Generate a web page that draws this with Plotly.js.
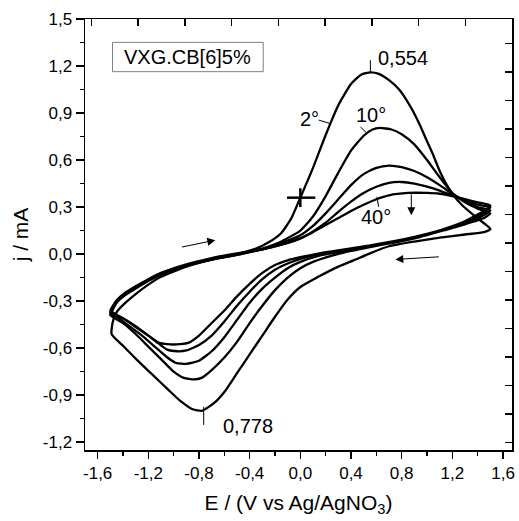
<!DOCTYPE html>
<html>
<head>
<meta charset="utf-8">
<script src="https://cdn.plot.ly/plotly-3.0.1.min.js"></script>
<style>html,body{margin:0;padding:0;background:#fff;}#chart{width:519px;height:521px;}</style>
</head>
<body>
<div id="chart"></div>
<script>
// ---- Data (E in V vs Ag/AgNO3, j in mA), each loop: anodic sweep then cathodic sweep ----
var e2 = [-1.49,-1.48,-1.45,-1.38,-1.3,-1.2,-1.1,-0.9,-0.7,-0.5,-0.35,-0.25,-0.15,-0.07,0.0,0.1,0.2,0.3,0.4,0.48,0.554,0.62,0.7,0.78,0.87,0.94,1.0,1.05,1.1,1.15,1.2,1.28,1.38,1.5,
          1.45,1.3,1.1,0.9,0.7,0.55,0.42,0.3,0.13,0.0,-0.1,-0.2,-0.3,-0.4,-0.5,-0.6,-0.68,-0.778,-0.85,-0.95,-1.05,-1.18,-1.29,-1.4,-1.49];
var j2 = [-0.51,-0.43,-0.37,-0.31,-0.255,-0.195,-0.145,-0.08,-0.035,0.0,0.035,0.075,0.135,0.23,0.36,0.55,0.76,0.95,1.085,1.145,1.16,1.15,1.11,1.05,0.94,0.83,0.72,0.63,0.53,0.45,0.385,0.31,0.24,0.16,
          0.14,0.125,0.105,0.08,0.05,0.005,-0.04,-0.08,-0.15,-0.21,-0.29,-0.40,-0.52,-0.64,-0.76,-0.88,-0.95,-1.0,-0.99,-0.935,-0.86,-0.76,-0.675,-0.585,-0.51];

var e10 = [-1.5,-1.49,-1.45,-1.38,-1.3,-1.2,-1.1,-0.9,-0.7,-0.5,-0.3,-0.15,0.0,0.1,0.2,0.3,0.4,0.5,0.57,0.63,0.72,0.8,0.9,1.0,1.1,1.2,1.3,1.4,1.5,
           1.45,1.3,1.15,0.95,0.75,0.55,0.4,0.25,0.1,0.0,-0.1,-0.2,-0.3,-0.4,-0.5,-0.6,-0.7,-0.78,-0.84,-0.92,-1.0,-1.1,-1.2,-1.3,-1.4,-1.5];
var j10 = [-0.39,-0.37,-0.31,-0.26,-0.22,-0.17,-0.13,-0.075,-0.035,-0.005,0.035,0.08,0.15,0.24,0.37,0.52,0.66,0.755,0.795,0.805,0.795,0.765,0.70,0.60,0.49,0.39,0.33,0.29,0.26,
           0.23,0.19,0.155,0.11,0.075,0.045,0.02,-0.01,-0.05,-0.09,-0.15,-0.23,-0.33,-0.44,-0.56,-0.66,-0.74,-0.79,-0.80,-0.79,-0.75,-0.67,-0.59,-0.51,-0.44,-0.39];

var e3 = [-1.5,-1.49,-1.45,-1.38,-1.3,-1.2,-1.1,-0.9,-0.7,-0.5,-0.3,-0.15,0.0,0.1,0.2,0.3,0.4,0.5,0.6,0.7,0.8,0.9,1.0,1.1,1.2,1.3,1.4,1.5,
          1.45,1.3,1.15,0.95,0.75,0.55,0.35,0.15,0.0,-0.1,-0.2,-0.3,-0.4,-0.5,-0.6,-0.7,-0.8,-0.9,-0.98,-1.05,-1.15,-1.25,-1.35,-1.45,-1.5];
var j3 = [-0.38,-0.36,-0.305,-0.255,-0.215,-0.17,-0.13,-0.075,-0.035,-0.005,0.03,0.07,0.12,0.18,0.26,0.35,0.44,0.51,0.55,0.565,0.555,0.53,0.49,0.44,0.385,0.34,0.30,0.28,
          0.25,0.20,0.16,0.115,0.08,0.05,0.02,-0.01,-0.05,-0.09,-0.15,-0.22,-0.31,-0.42,-0.53,-0.62,-0.68,-0.70,-0.695,-0.66,-0.59,-0.52,-0.46,-0.40,-0.38];

var e4 = [-1.5,-1.49,-1.45,-1.38,-1.3,-1.2,-1.1,-0.9,-0.7,-0.5,-0.3,-0.15,0.0,0.1,0.2,0.3,0.4,0.5,0.6,0.7,0.8,0.9,1.0,1.1,1.2,1.3,1.4,1.5,
          1.45,1.3,1.15,0.95,0.75,0.55,0.35,0.15,0.0,-0.1,-0.2,-0.3,-0.4,-0.5,-0.6,-0.7,-0.8,-0.9,-0.97,-1.05,-1.12,-1.2,-1.3,-1.4,-1.5];
var j4 = [-0.37,-0.355,-0.30,-0.25,-0.21,-0.165,-0.125,-0.07,-0.03,0.0,0.03,0.06,0.10,0.145,0.20,0.27,0.335,0.39,0.43,0.455,0.46,0.45,0.43,0.405,0.375,0.345,0.315,0.30,
          0.265,0.205,0.16,0.115,0.08,0.05,0.025,0.0,-0.03,-0.06,-0.10,-0.16,-0.24,-0.33,-0.43,-0.52,-0.58,-0.615,-0.62,-0.61,-0.57,-0.52,-0.46,-0.41,-0.37];

var e40 = [-1.5,-1.49,-1.45,-1.38,-1.3,-1.2,-1.1,-0.9,-0.7,-0.5,-0.3,-0.15,0.0,0.1,0.2,0.3,0.4,0.5,0.6,0.7,0.85,1.0,1.1,1.2,1.3,1.4,1.5,
           1.45,1.3,1.15,0.95,0.75,0.55,0.35,0.15,0.0,-0.1,-0.2,-0.3,-0.4,-0.5,-0.6,-0.7,-0.8,-0.88,-0.95,-1.05,-1.12,-1.2,-1.3,-1.4,-1.5];
var j40 = [-0.36,-0.345,-0.295,-0.245,-0.205,-0.16,-0.12,-0.065,-0.025,0.005,0.03,0.06,0.10,0.14,0.185,0.23,0.275,0.315,0.35,0.375,0.39,0.39,0.385,0.37,0.35,0.33,0.31,
           0.275,0.21,0.165,0.12,0.085,0.055,0.03,0.005,-0.02,-0.04,-0.07,-0.12,-0.19,-0.27,-0.36,-0.44,-0.52,-0.565,-0.575,-0.575,-0.565,-0.52,-0.465,-0.41,-0.36];

var xTickVals = [-1.6,-1.2,-0.8,-0.4,0.0,0.4,0.8,1.2,1.6];
var xTickText = ["-1,6","-1,2","-0,8","-0,4","0,0","0,4","0,8","1,2","1,6"];
var yTickVals = [-1.2,-0.9,-0.6,-0.3,0.0,0.3,0.6,0.9,1.2,1.5];
var yTickText = ["-1,2","-0,9","-0,6","-0,3","0,0","0,3","0,6","0,9","1,2","1,5"];

var FONT = 'Arial, "Liberation Sans", sans-serif';
var lineStyle = {color:'#000', width:2.3, shape:'spline', smoothing:0.5};
function loop(e, j, name){ return {type:'scatter', mode:'lines', x:e, y:j, name:name, line:lineStyle, showlegend:false, hoverinfo:'skip'}; }

var traces = [loop(e2,j2,'2°'), loop(e10,j10,'10°'), loop(e3,j3,'20°'), loop(e4,j4,'30°'), loop(e40,j40,'40°'),
  {type:'scatter', x:[], y:[], xaxis:'x2', yaxis:'y2', showlegend:false, hoverinfo:'skip'}];

function seg(x0,y0,x1,y1,w){ return {type:'line', xref:'x', yref:'y', x0:x0, y0:y0, x1:x1, y1:y1, line:{color:'#000', width:w||1}}; }
function label(x,y,t,size){ return {x:x, y:y, xref:'x', yref:'y', text:t, showarrow:false, font:{family:FONT, size:size||20, color:'#000'}}; }
function arrow(x0,y0,x1,y1){ return {x:x1, y:y1, ax:x0, ay:y0, xref:'x', yref:'y', axref:'x', ayref:'y', text:'', showarrow:true, arrowhead:2, arrowsize:1.6, arrowwidth:1, arrowcolor:'#000'}; }

var layout = {
  width:519, height:521,
  margin:{l:85, r:7, t:19, b:71, pad:0},
  paper_bgcolor:'#fff', plot_bgcolor:'#fff',
  font:{family:FONT, color:'#000', size:17},
  xaxis:{range:[-1.70,1.671], tickvals:xTickVals, ticktext:xTickText, ticks:'outside', ticklen:7, tickwidth:1.5, tickcolor:'#000',
         minor:{dtick:0.2, tick0:0, ticks:'outside', ticklen:4, tickwidth:1.5, tickcolor:'#000', showgrid:false},
         showline:true, linewidth:1.5, linecolor:'#000', mirror:true, showgrid:false, zeroline:false,
         tickfont:{family:FONT, size:17, color:'#000'},
         title:{text:'E / (V vs Ag/AgNO<sub>3</sub>)', font:{family:FONT, size:21, color:'#000'}, standoff:13}},
  yaxis:{range:[-1.25,1.5], tickvals:yTickVals, ticktext:yTickText, ticks:'outside', ticklen:8, tickwidth:1.5, tickcolor:'#000',
         minor:{dtick:0.15, tick0:0, ticks:'outside', ticklen:4, tickwidth:1.5, tickcolor:'#000', showgrid:false},
         showline:true, linewidth:1.5, linecolor:'#000', mirror:true, showgrid:false, zeroline:false,
         tickfont:{family:FONT, size:17, color:'#000'},
         title:{text:'j / mA', font:{family:FONT, size:21, color:'#000'}, standoff:8}},
  xaxis2:{overlaying:'x', side:'top', range:[-0.137,9], tick0:0, dtick:1, ticks:'inside', ticklen:7, tickwidth:1.5, tickcolor:'#000',
          showticklabels:false, showgrid:false, zeroline:false, showline:false},
  yaxis2:{overlaying:'y', side:'right', range:[-0.256,14.85], tick0:0, dtick:1, ticks:'inside', ticklen:7, tickwidth:1.5, tickcolor:'#000',
          showticklabels:false, showgrid:false, zeroline:false, showline:false},
  shapes:[
    {type:'rect', xref:'x', yref:'y', x0:-1.483, x1:-0.293, y0:1.164, y1:1.351, line:{color:'#808080', width:1}, fillcolor:'rgba(0,0,0,0)'},
    seg(-0.105,0.36,0.118,0.36,2.5), seg(0,0.42,0,0.30,2.5),
    seg(0.553,1.237,0.553,1.163,1),
    seg(-0.763,-0.974,-0.763,-1.09,1),
    seg(0.145,0.855,0.237,0.833,1),
    seg(0.474,0.811,0.521,0.776,1),
    seg(0.605,0.365,0.618,0.302,1)
  ],
  annotations:[
    label(-0.888,1.258,'VXG.CB[6]5%',20),
    label(0.813,1.253,'0,554',20),
    label(-0.414,-1.10,'0,778',20),
    label(0.071,0.86,'2°',20),
    label(0.56,0.885,'10°',20),
    label(0.60,0.236,'40°',20),
    arrow(-0.947,0.043,-0.671,0.089),
    arrow(0.876,0.391,0.876,0.248),
    arrow(1.105,-0.017,0.75,-0.034)
  ]
};

Plotly.newPlot('chart', traces, layout, {staticPlot:true, displayModeBar:false});
</script>
</body>
</html>
